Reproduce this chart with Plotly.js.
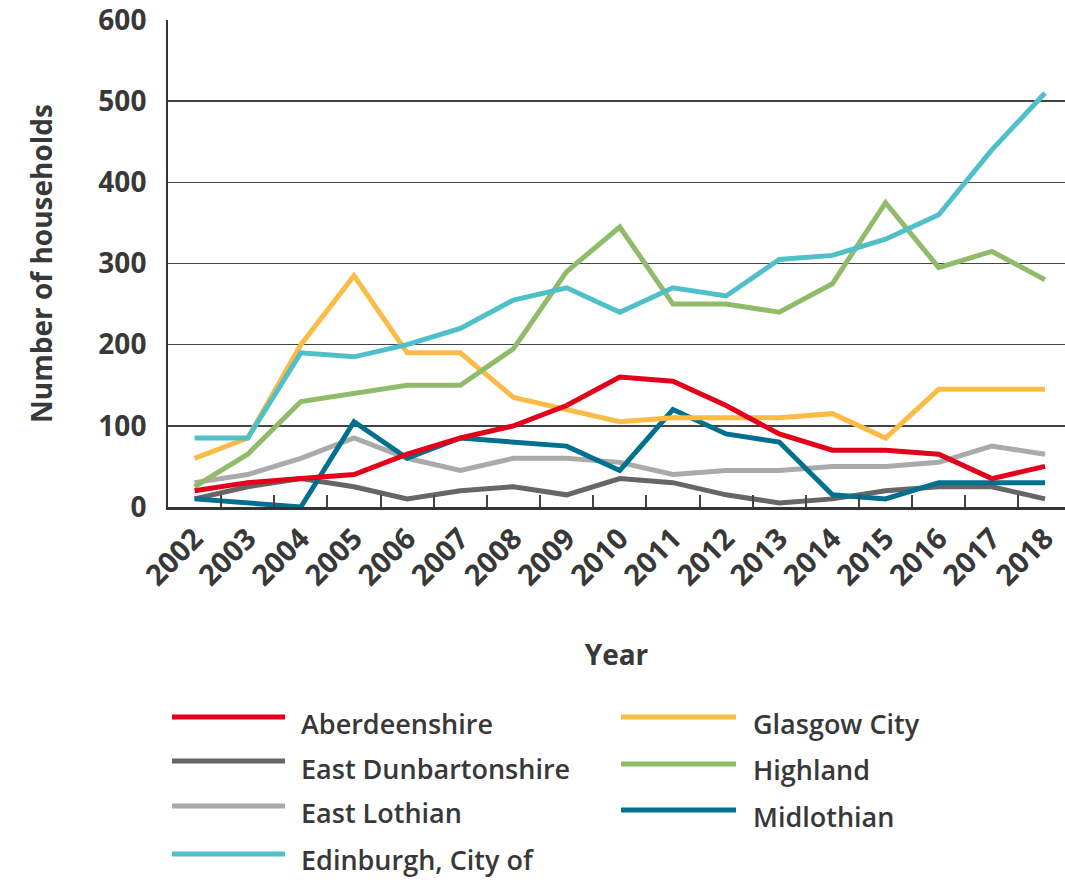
<!DOCTYPE html>
<html>
<head>
<meta charset="utf-8">
<script src="https://cdn.plot.ly/plotly-3.0.1.min.js"></script>
<style>html,body{margin:0;padding:0;background:#fff;}#chart{width:1065px;height:880px;}</style>
</head>
<body>
<div id="chart"></div>
<script>
const years = ["2002","2003","2004","2005","2006","2007","2008","2009","2010","2011","2012","2013","2014","2015","2016","2017","2018"];
const seriesNames = ["Aberdeenshire","East Dunbartonshire","East Lothian","Edinburgh, City of","Glasgow City","Highland","Midlothian"];
const aberdeenshire      = [20,30,35,40,65,85,100,125,160,155,125,90,70,70,65,35,50];
const eastDunbartonshire = [10,25,35,25,10,20,25,15,35,30,15,5,10,20,25,25,10];
const eastLothian        = [30,40,60,85,60,45,60,60,55,40,45,45,50,50,55,75,65];
const edinburgh          = [85,85,190,185,200,220,255,270,240,270,260,305,310,330,360,440,510];
const glasgow            = [60,85,200,285,190,190,135,120,105,110,110,110,115,85,145,145,145];
const highland           = [25,65,130,140,150,150,195,290,345,250,250,240,275,375,295,315,280];
const midlothian         = [10,5,0,105,60,85,80,75,45,120,90,80,15,10,30,30,30];
const yTicks = [0,100,200,300,400,500,600];

const colors = {
  "Aberdeenshire":"#e2001a",
  "East Dunbartonshire":"#666666",
  "East Lothian":"#aaaaaa",
  "Edinburgh, City of":"#4fbfc8",
  "Glasgow City":"#fcbb45",
  "Highland":"#8fbb6b",
  "Midlothian":"#00708f"
};
const values = {
  "Aberdeenshire":aberdeenshire,
  "East Dunbartonshire":eastDunbartonshire,
  "East Lothian":eastLothian,
  "Edinburgh, City of":edinburgh,
  "Glasgow City":glasgow,
  "Highland":highland,
  "Midlothian":midlothian
};
const drawOrder = ["East Dunbartonshire","East Lothian","Midlothian","Glasgow City","Highland","Edinburgh, City of","Aberdeenshire"];

const traces = drawOrder.map(n => ({
  type:"scatter", mode:"lines", name:n, x:years, y:values[n],
  line:{color:colors[n], width:5}, showlegend:false, hoverinfo:"skip"
}));

// plot area in pixels
const L = 168, R = 1065, T = 20, B = 507;
const px2x = p => (p - L) / (R - L);
const px2y = p => (B - p) / (B - T);

const FONT = "'Open Sans', Lato, 'DejaVu Sans', sans-serif";
const TXT = "#383838";

// manual legend
const legendPos = [
  {x0:172, x1:285, ly:717, tx:299, ty:723},
  {x0:172, x1:285, ly:761, tx:299, ty:768},
  {x0:172, x1:285, ly:806, tx:299, ty:813},
  {x0:172, x1:285, ly:854, tx:299, ty:859},
  {x0:621, x1:736, ly:717, tx:751, ty:723},
  {x0:621, x1:736, ly:764, tx:751, ty:770},
  {x0:621, x1:736, ly:810, tx:751, ty:816}
];
const shapes = [];
const annotations = [];
seriesNames.forEach((n,i) => {
  const p = legendPos[i];
  shapes.push({type:"line", xref:"paper", yref:"paper",
    x0:px2x(p.x0), x1:px2x(p.x1), y0:px2y(p.ly), y1:px2y(p.ly),
    line:{color:colors[n], width:5}});
  annotations.push({xref:"paper", yref:"paper", x:px2x(p.tx), y:px2y(p.ty),
    xanchor:"left", yanchor:"middle", showarrow:false, text:n,
    font:{family:FONT, size:27, color:TXT, weight:600}});
});

const layout = {
  width:1065, height:880,
  margin:{l:L, r:1065-R, t:T, b:880-B, pad:0},
  paper_bgcolor:"#ffffff", plot_bgcolor:"#ffffff",
  showlegend:false,
  xaxis:{
    type:"category", range:[-0.5, (R-195)/53.125],
    tickson:"boundaries", ticks:"inside", ticklen:12, tickwidth:2, tickcolor:"#444444",
    tickangle:-45, tickfont:{family:FONT, size:29, color:TXT, weight:700},
    ticklabeloverflow:"allow",
    showline:true, linecolor:"#333333", linewidth:3, showgrid:false, zeroline:false,
    title:{text:"Year", font:{family:FONT, size:28, color:TXT, weight:700}, standoff:54}
  },
  yaxis:{
    range:[0,600], tickvals:yTicks, ticktext:yTicks.map(String),
    tickfont:{family:FONT, size:28, color:TXT, weight:700},
    ticklabeloverflow:"allow",
    ticks:"", showline:true, linecolor:"#333333", linewidth:2,
    showgrid:true, gridcolor:"#444444", gridwidth:1.5, zeroline:false,
    ticklabelstandoff:14,
    title:{text:"Number of households", font:{family:FONT, size:28, color:TXT, weight:700}, standoff:38}
  },
  shapes:shapes,
  annotations:annotations
};

Plotly.newPlot("chart", traces, layout, {staticPlot:true, displayModeBar:false});
</script>
</body>
</html>
